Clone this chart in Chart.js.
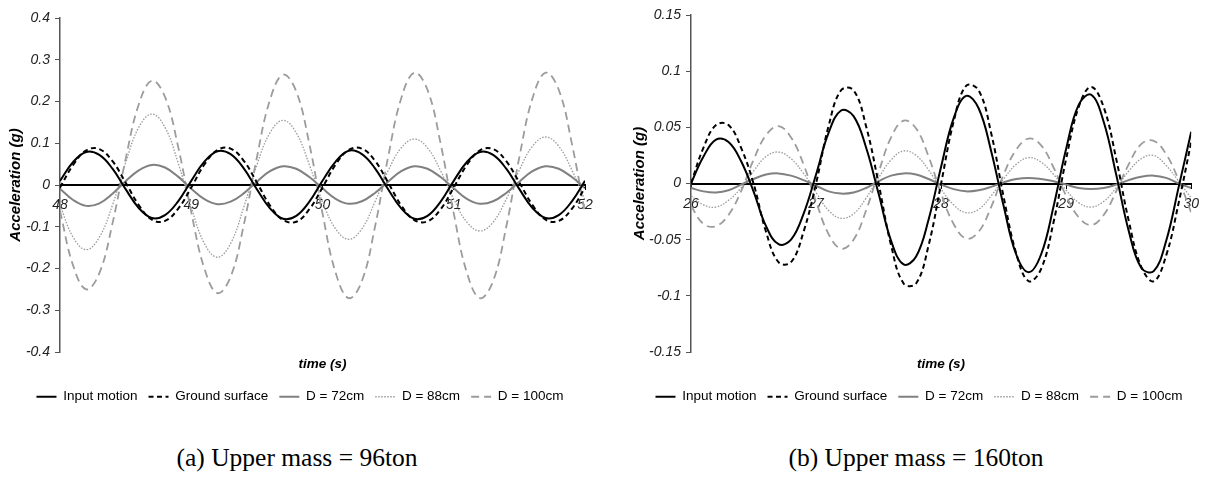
<!DOCTYPE html>
<html>
<head>
<meta charset="utf-8">
<script src="https://cdn.jsdelivr.net/npm/chart.js@4.4.1/dist/chart.umd.min.js"></script>
<style>
  body { margin: 0; background: #fff; width: 1207px; height: 483px; overflow: hidden; position: relative; }
  canvas { position: absolute; top: 0; }
  .caption { position: absolute; top: 443px; width: 400px; height: 30px; line-height: 30px; text-align: center;
             font-family: "Liberation Serif", "Times New Roman", serif; font-size: 25.5px; color: #000; }
</style>
</head>
<body>
<canvas id="chart-a" width="605" height="420" style="left:0"></canvas>
<canvas id="chart-b" width="587" height="420" style="left:620px"></canvas>
<div class="caption" style="left:97px">(a) Upper mass = 96ton</div>
<div class="caption" style="left:716px">(b) Upper mass = 160ton</div>
<script>
// Series names
const seriesNames = ['Input motion', 'Ground surface', 'D = 72cm', 'D = 88cm', 'D = 100cm'];

// (a) Upper mass = 96ton
const timeA = [48.0, 48.1, 48.2, 48.3, 48.4, 48.5, 48.6, 48.7, 48.8, 48.9,
               49.0, 49.1, 49.2, 49.3, 49.4, 49.5, 49.6, 49.7, 49.8, 49.9,
               50.0, 50.1, 50.2, 50.3, 50.4, 50.5, 50.6, 50.7, 50.8, 50.9,
               51.0, 51.1, 51.2, 51.3, 51.4, 51.5, 51.6, 51.7, 51.8, 51.9, 52.0];
const inputA = [0.010, 0.055, 0.079, 0.072, 0.039, -0.010, -0.055, -0.079, -0.072, -0.039,
                0.010, 0.056, 0.081, 0.074, 0.040, -0.010, -0.056, -0.081, -0.074, -0.040,
                0.010, 0.056, 0.082, 0.074, 0.040, -0.010, -0.056, -0.081, -0.074, -0.040,
                0.010, 0.055, 0.079, 0.072, 0.039, -0.010, -0.055, -0.079, -0.072, -0.039, 0.010];
const groundA = [-0.006, 0.048, 0.083, 0.086, 0.057, 0.006, -0.048, -0.083, -0.086, -0.057,
                 -0.006, 0.049, 0.084, 0.087, 0.058, 0.006, -0.049, -0.084, -0.088, -0.058,
                 -0.006, 0.049, 0.084, 0.087, 0.058, 0.006, -0.049, -0.084, -0.087, -0.058,
                 -0.006, 0.048, 0.083, 0.086, 0.057, 0.006, -0.048, -0.083, -0.086, -0.057, -0.006];
const d72A = [-0.009, -0.036, -0.050, -0.044, -0.021, 0.009, 0.035, 0.048, 0.042, 0.020,
              -0.009, -0.034, -0.046, -0.040, -0.020, 0.008, 0.033, 0.045, 0.039, 0.019,
              -0.008, -0.033, -0.045, -0.039, -0.019, 0.008, 0.033, 0.045, 0.039, 0.019,
              -0.008, -0.033, -0.045, -0.039, -0.019, 0.008, 0.033, 0.045, 0.039, 0.019, -0.008];
const d88A = [-0.048, -0.125, -0.155, -0.125, -0.048, 0.053, 0.138, 0.170, 0.138, 0.053,
              -0.053, -0.140, -0.173, -0.140, -0.053, 0.048, 0.125, 0.155, 0.125, 0.048,
              -0.040, -0.105, -0.130, -0.105, -0.040, 0.034, 0.089, 0.110, 0.089, 0.034,
              -0.034, -0.089, -0.110, -0.089, -0.034, 0.036, 0.093, 0.115, 0.093, 0.036, -0.036];
const d100A = [-0.062, -0.193, -0.250, -0.211, -0.092, 0.062, 0.193, 0.250, 0.211, 0.092,
               -0.065, -0.200, -0.259, -0.220, -0.096, 0.066, 0.204, 0.264, 0.224, 0.098,
               -0.068, -0.210, -0.271, -0.230, -0.100, 0.067, 0.208, 0.269, 0.228, 0.099,
               -0.068, -0.210, -0.271, -0.230, -0.100, 0.067, 0.208, 0.269, 0.228, 0.099, -0.068];

// (b) Upper mass = 160ton
const timeB = [26.0, 26.1, 26.2, 26.3, 26.4, 26.5, 26.6, 26.7, 26.8, 26.9,
               27.0, 27.1, 27.2, 27.3, 27.4, 27.5, 27.6, 27.7, 27.8, 27.9,
               28.0, 28.1, 28.2, 28.3, 28.4, 28.5, 28.6, 28.7, 28.8, 28.9,
               29.0, 29.1, 29.2, 29.3, 29.4, 29.5, 29.6, 29.7, 29.8, 29.9, 30.0];
const inputB = [0.000, 0.024, 0.039, 0.037, 0.020, -0.007, -0.038, -0.054, -0.050, -0.027,
                0.008, 0.045, 0.065, 0.060, 0.032, -0.009, -0.051, -0.072, -0.065, -0.032,
                0.015, 0.058, 0.078, 0.067, 0.029, -0.020, -0.063, -0.079, -0.063, -0.020,
                0.031, 0.070, 0.079, 0.055, 0.008, -0.042, -0.075, -0.078, -0.051, -0.003, 0.046];
const groundB = [0.000, 0.032, 0.052, 0.052, 0.032, 0.000, -0.043, -0.070, -0.070, -0.043,
                 0.000, 0.051, 0.083, 0.083, 0.051, 0.000, -0.055, -0.089, -0.089, -0.055,
                 0.000, 0.055, 0.087, 0.083, 0.045, -0.012, -0.062, -0.087, -0.076, -0.034,
                 0.022, 0.068, 0.086, 0.068, 0.022, -0.033, -0.074, -0.087, -0.064, -0.017, 0.037];
const d72B = [-0.004, -0.007, -0.008, -0.006, -0.001, 0.004, 0.008, 0.009, 0.007, 0.003,
              -0.002, -0.007, -0.009, -0.008, -0.004, 0.002, 0.007, 0.009, 0.008, 0.004,
              -0.001, -0.005, -0.007, -0.006, -0.003, 0.001, 0.004, 0.005, 0.004, 0.002,
              -0.001, -0.004, -0.005, -0.004, -0.001, 0.003, 0.006, 0.007, 0.005, 0.000, -0.004];
const d88B = [-0.011, -0.019, -0.021, -0.015, -0.004, 0.011, 0.024, 0.028, 0.022, 0.009,
              -0.008, -0.024, -0.031, -0.027, -0.013, 0.005, 0.021, 0.029, 0.025, 0.012,
              -0.005, -0.019, -0.026, -0.023, -0.011, 0.004, 0.017, 0.023, 0.019, 0.008,
              -0.006, -0.017, -0.021, -0.016, -0.004, 0.011, 0.022, 0.025, 0.016, 0.002, -0.013];
const d100B = [-0.020, -0.036, -0.038, -0.028, -0.007, 0.021, 0.043, 0.051, 0.041, 0.017,
               -0.016, -0.045, -0.058, -0.050, -0.024, 0.010, 0.041, 0.056, 0.049, 0.024,
               -0.009, -0.036, -0.049, -0.043, -0.021, 0.008, 0.030, 0.040, 0.034, 0.014,
               -0.011, -0.030, -0.037, -0.028, -0.007, 0.017, 0.035, 0.038, 0.026, 0.003, -0.026];

const fontFamily = '"Liberation Sans", Arial, sans-serif';

// Line styles for the five series
const lineStyles = [
    { color: '#000000', width: 2, dash: [] },
    { color: '#000000', width: 2, dash: [5, 3.5] },
    { color: '#808080', width: 2, dash: [] },
    { color: '#9a9a9a', width: 1.3, dash: [1.5, 1.5] },
    { color: '#9c9c9c', width: 1.8, dash: [8, 5] }
];

function toPoints(times, values) {
    return times.map((t, i) => ({ x: t, y: values[i] }));
}

function makeDatasets(times, seriesList) {
    return seriesList.map((values, i) => ({
        label: seriesNames[i],
        data: toPoints(times, values),
        borderColor: lineStyles[i].color,
        backgroundColor: lineStyles[i].color,
        borderWidth: lineStyles[i].width,
        borderDash: lineStyles[i].dash,
        pointRadius: 0,
        tension: 0.4,
        fill: false
    }));
}

// Legend entries drawn as short line samples with the series dash pattern
function legendLabels(chart) {
    return chart.data.datasets.map((ds, i) => ({
        text: ds.label,
        datasetIndex: i,
        fillStyle: ds.borderColor,
        strokeStyle: ds.borderColor,
        lineWidth: ds.borderWidth,
        lineDash: ds.borderDash,
        pointStyle: 'line',
        fontColor: '#000',
        hidden: false
    }));
}

function formatTick(value) {
    return String(+Number(value).toFixed(2));
}

function buildChart(canvasId, times, seriesList, xMin, xMax, yMax, yStep, opts) {
    const ctx = document.getElementById(canvasId).getContext('2d');
    return new Chart(ctx, {
        type: 'line',
        data: { datasets: makeDatasets(times, seriesList) },
        options: {
            responsive: false,
            animation: false,
            layout: { padding: opts.padding },
            plugins: {
                legend: {
                    position: 'bottom',
                    labels: {
                        usePointStyle: true,
                        pointStyle: 'line',
                        pointStyleWidth: 20,
                        padding: 11,
                        color: '#000',
                        font: { family: fontFamily, size: 13.5 },
                        generateLabels: legendLabels
                    }
                },
                tooltip: { enabled: false }
            },
            scales: {
                x: {
                    type: 'linear',
                    position: { y: 0 },
                    min: xMin,
                    max: xMax,
                    grid: { drawOnChartArea: false, tickLength: 4, color: '#000' },
                    border: { color: '#000', width: 2 },
                    ticks: {
                        stepSize: 1,
                        padding: 8,
                        maxRotation: 0,
                        color: '#222',
                        font: { family: fontFamily, size: 14, style: 'italic' }
                    }
                },
                x2: {
                    type: 'linear',
                    position: 'bottom',
                    grid: { display: false },
                    border: { display: false },
                    ticks: { display: false },
                    title: {
                        display: true,
                        text: 'time (s)',
                        color: '#000',
                        padding: { top: 0, bottom: 7 },
                        font: { family: fontFamily, size: 13.5, weight: 'bold', style: 'italic' }
                    },
                    afterFit: (scale) => { scale.height = 27; }
                },
                y: {
                    min: -yMax,
                    max: yMax,
                    grid: { drawOnChartArea: false, tickLength: 5, color: '#555' },
                    border: { color: '#555', width: 1.5 },
                    ticks: {
                        stepSize: yStep,
                        padding: 5,
                        color: '#222',
                        font: { family: fontFamily, size: 14, style: 'italic' },
                        callback: formatTick
                    },
                    title: {
                        display: true,
                        text: 'Acceleration (g)',
                        color: '#000',
                        padding: { top: opts.titleOffset, bottom: 0 },
                        font: { family: fontFamily, size: 15, weight: 'bold', style: 'italic' }
                    },
                    afterFit: (scale) => { scale.width = opts.yWidth; }
                }
            }
        }
    });
}

buildChart('chart-a', timeA, [inputA, groundA, d72A, d88A, d100A], 48, 52, 0.4, 0.1,
    { padding: { left: 15, right: 20, top: 18, bottom: 6.5 }, yWidth: 45, titleOffset: -8 });

buildChart('chart-b', timeB, [inputB, groundB, d72B, d88B, d100B], 26, 30, 0.15, 0.05,
    { padding: { left: 21, right: 10, top: 15, bottom: 6.5 }, yWidth: 50, titleOffset: -10 });
</script>
</body>
</html>
